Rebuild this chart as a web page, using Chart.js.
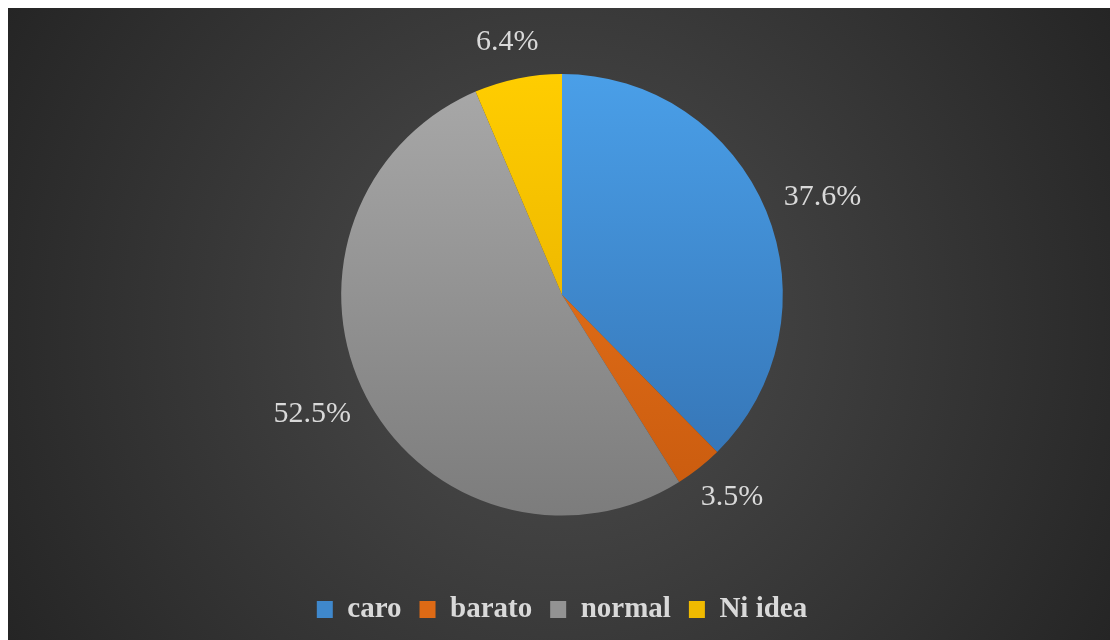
<!DOCTYPE html>
<html>
<head>
<meta charset="utf-8">
<script src="https://cdn.jsdelivr.net/npm/chart.js@4"></script>
<style>
    html, body { margin: 0; padding: 0; background: #ffffff; }
    #wrap { position: absolute; left: 8px; top: 8px; width: 1102px; height: 632px; }
</style>
</head>
<body>
<div id="wrap"><canvas id="pieChart"></canvas></div>
<script>
    var categories = ['caro', 'barato', 'normal', 'Ni idea'];
    var shares = [37.6, 3.5, 52.5, 6.4];
    var topColors = ['#4a9fe8', '#f27b1f', '#a9a9a9', '#ffcd00'];
    var bottomColors = ['#3370b0', '#c85a0e', '#7c7c7c', '#dfa600'];
    var midColors = ['#3f88cc', '#de6a15', '#939393', '#f0ba00'];

    var TEXT = '#d9d9d9';
    var SERIF = '"Liberation Serif", "Times New Roman", serif';

    function sliceFill(context) {
        var chart = context.chart;
        var area = chart.chartArea;
        var i = context.dataIndex;
        if (!area) {
            return midColors[i];
        }
        var cy = (area.top + area.bottom) / 2;
        var r = Math.min(area.right - area.left, area.bottom - area.top) / 2;
        var g = chart.ctx.createLinearGradient(0, cy - r, 0, cy + r);
        g.addColorStop(0, topColors[i]);
        g.addColorStop(1, bottomColors[i]);
        return g;
    }

    var backgroundPlugin = {
        id: 'backgroundPlugin',
        beforeDraw: function (chart) {
            var ctx = chart.ctx;
            var w = chart.width, h = chart.height;
            var g = ctx.createRadialGradient(w / 2, h / 2, 0, w / 2, h / 2, Math.sqrt(w * w + h * h) / 2);
            g.addColorStop(0, '#4e4e4e');
            g.addColorStop(1, '#252525');
            ctx.save();
            ctx.fillStyle = g;
            ctx.fillRect(0, 0, w, h);
            ctx.restore();
        }
    };

    var outsideLabels = {
        id: 'outsideLabels',
        afterDatasetsDraw: function (chart) {
            var ctx = chart.ctx;
            var meta = chart.getDatasetMeta(0);
            ctx.save();
            ctx.font = '30px ' + SERIF;
            ctx.fillStyle = TEXT;
            ctx.textAlign = 'center';
            ctx.textBaseline = 'middle';
            meta.data.forEach(function (arc, i) {
                var mid = (arc.startAngle + arc.endAngle) / 2;
                var text = shares[i].toFixed(1) + '%';
                var halfW = ctx.measureText(text).width / 2;
                var halfH = 15;
                var dx = Math.cos(mid), dy = Math.sin(mid);
                var rr = arc.outerRadius + 22;
                var x = arc.x + dx * rr + dx * halfW;
                var y = arc.y + dy * rr + dy * halfH;
                ctx.fillText(text, x, y);
            });
            ctx.restore();
        }
    };

    var chart = new Chart(document.getElementById('pieChart'), {
        type: 'pie',
        data: {
            labels: categories,
            datasets: [{
                data: shares,
                backgroundColor: sliceFill,
                borderWidth: 0
            }]
        },
        options: {
            responsive: true,
            maintainAspectRatio: false,
            animation: false,
            layout: {
                padding: { top: 66, left: 6, right: 0, bottom: 6 }
            },
            plugins: {
                legend: {
                    position: 'bottom',
                    title: {
                        display: true,
                        text: '',
                        font: { size: 12 },
                        padding: { top: 47, bottom: 0 }
                    },
                    labels: {
                        color: TEXT,
                        boxWidth: 16,
                        boxHeight: 17,
                        padding: 18,
                        font: { family: SERIF, size: 29, weight: 'bold' },
                        generateLabels: function (c) {
                            return categories.map(function (name, i) {
                                return {
                                    text: name,
                                    fillStyle: midColors[i],
                                    strokeStyle: midColors[i],
                                    lineWidth: 0,
                                    fontColor: TEXT,
                                    index: i
                                };
                            });
                        }
                    }
                },
                tooltip: { enabled: false }
            }
        },
        plugins: [backgroundPlugin, outsideLabels]
    });
</script>
</body>
</html>
